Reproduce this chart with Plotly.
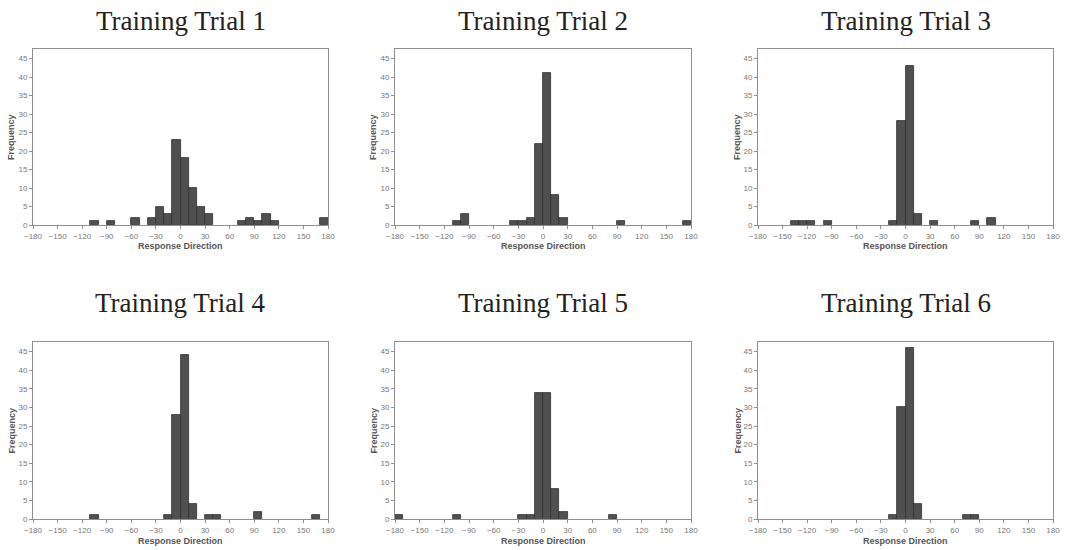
import plotly.graph_objects as go

# ---- data: left edges of 10-degree bins and their frequencies ----
trial1_bins = [-110, -90, -60, -40, -30, -20, -10, 0, 10, 20, 30, 70, 80, 90, 100, 110, 170]
trial1_counts = [1, 1, 2, 2, 5, 3, 23, 18, 10, 5, 3, 1, 2, 1, 3, 1, 2]

trial2_bins = [-110, -100, -40, -30, -20, -10, 0, 10, 20, 90, 170]
trial2_counts = [1, 3, 1, 1, 2, 22, 41, 8, 2, 1, 1]

trial3_bins = [-140, -130, -120, -100, -20, -10, 0, 10, 30, 80, 100]
trial3_counts = [1, 1, 1, 1, 1, 28, 43, 3, 1, 1, 2]

trial4_bins = [-110, -20, -10, 0, 10, 30, 40, 90, 160]
trial4_counts = [1, 1, 28, 44, 4, 1, 1, 2, 1]

trial5_bins = [-180, -110, -30, -20, -10, 0, 10, 20, 80]
trial5_counts = [1, 1, 1, 1, 34, 34, 8, 2, 1]

trial6_bins = [-20, -10, 0, 10, 70, 80]
trial6_counts = [1, 30, 46, 4, 1, 1]

titles = ["Training Trial 1", "Training Trial 2", "Training Trial 3",
          "Training Trial 4", "Training Trial 5", "Training Trial 6"]
x_ticks = [-180, -150, -120, -90, -60, -30, 0, 30, 60, 90, 120, 150, 180]
y_ticks = [0, 5, 10, 15, 20, 25, 30, 35, 40, 45]
bin_width = 10

series = [(trial1_bins, trial1_counts), (trial2_bins, trial2_counts), (trial3_bins, trial3_counts),
          (trial4_bins, trial4_counts), (trial5_bins, trial5_counts), (trial6_bins, trial6_counts)]

W, H = 1066, 550
# pixel geometry of the panels (left, right) and rows (top, bottom)
cols_px = [(33, 328), (395, 691), (758, 1053)]
rows_px = [(49, 225), (342, 519)]
freq_x_px = [11, 373, 737]
title_y_px = [21, 303]
xlabel_y_px = [246, 541]

fig = go.Figure()
layout_axes = {}
annotations = []

for idx, ((bins, counts), title) in enumerate(zip(series, titles)):
    r, c = divmod(idx, 3)
    n = idx + 1
    xa = "x" if n == 1 else f"x{n}"
    ya = "y" if n == 1 else f"y{n}"
    fig.add_trace(go.Bar(
        x=bins, y=counts, width=bin_width, offset=0,
        marker=dict(color="#505050", line=dict(color="#2e2e2e", width=0.8)),
        xaxis=xa, yaxis=ya, showlegend=False,
    ))
    x0, x1 = cols_px[c]
    t, b = rows_px[r]
    xd = [x0 / W, x1 / W]
    yd = [1 - b / H, 1 - t / H]
    axis_common = dict(
        showline=True, linecolor="#8f8f8f", linewidth=1, mirror=True,
        ticks="outside", ticklen=3, tickcolor="#8f8f8f", tickwidth=1,
        showgrid=False, zeroline=False, automargin=False,
        tickfont=dict(family="Arial, Liberation Sans", size=8, color="#777777"),
    )
    layout_axes["xaxis" if n == 1 else f"xaxis{n}"] = dict(
        axis_common, domain=xd, range=[-180, 180], tickvals=x_ticks,
        anchor=ya, fixedrange=True,
    )
    layout_axes["yaxis" if n == 1 else f"yaxis{n}"] = dict(
        axis_common, domain=yd, range=[0, 47.6], tickvals=y_ticks,
        anchor=xa, fixedrange=True,
    )
    annotations.append(dict(
        text=title, xref="paper", yref="paper",
        x=(x0 + x1) / 2 / W, y=1 - title_y_px[r] / H,
        xanchor="center", yanchor="middle", showarrow=False,
        font=dict(family="Liberation Serif, Times New Roman, serif", size=27, color="#222222"),
    ))
    annotations.append(dict(
        text="<b>Response Direction</b>", xref="paper", yref="paper",
        x=(x0 + x1) / 2 / W, y=1 - xlabel_y_px[r] / H,
        xanchor="center", yanchor="middle", showarrow=False,
        font=dict(family="Arial, Liberation Sans", size=9, color="#555555"),
    ))
    annotations.append(dict(
        text="<b>Frequency</b>", xref="paper", yref="paper",
        x=freq_x_px[c] / W, y=1 - (t + b) / 2 / H, textangle=-90,
        xanchor="center", yanchor="middle", showarrow=False,
        font=dict(family="Arial, Liberation Sans", size=9, color="#555555"),
    ))

fig.update_layout(
    width=W, height=H,
    margin=dict(l=0, r=0, t=0, b=0, pad=0, autoexpand=False),
    paper_bgcolor="white", plot_bgcolor="white",
    bargap=0, annotations=annotations,
    **layout_axes,
)

fig.write_html(
    "out.html",
    config={"displayModeBar": False},
    post_script="document.body.style.margin='0';document.body.style.overflow='hidden';",
)
